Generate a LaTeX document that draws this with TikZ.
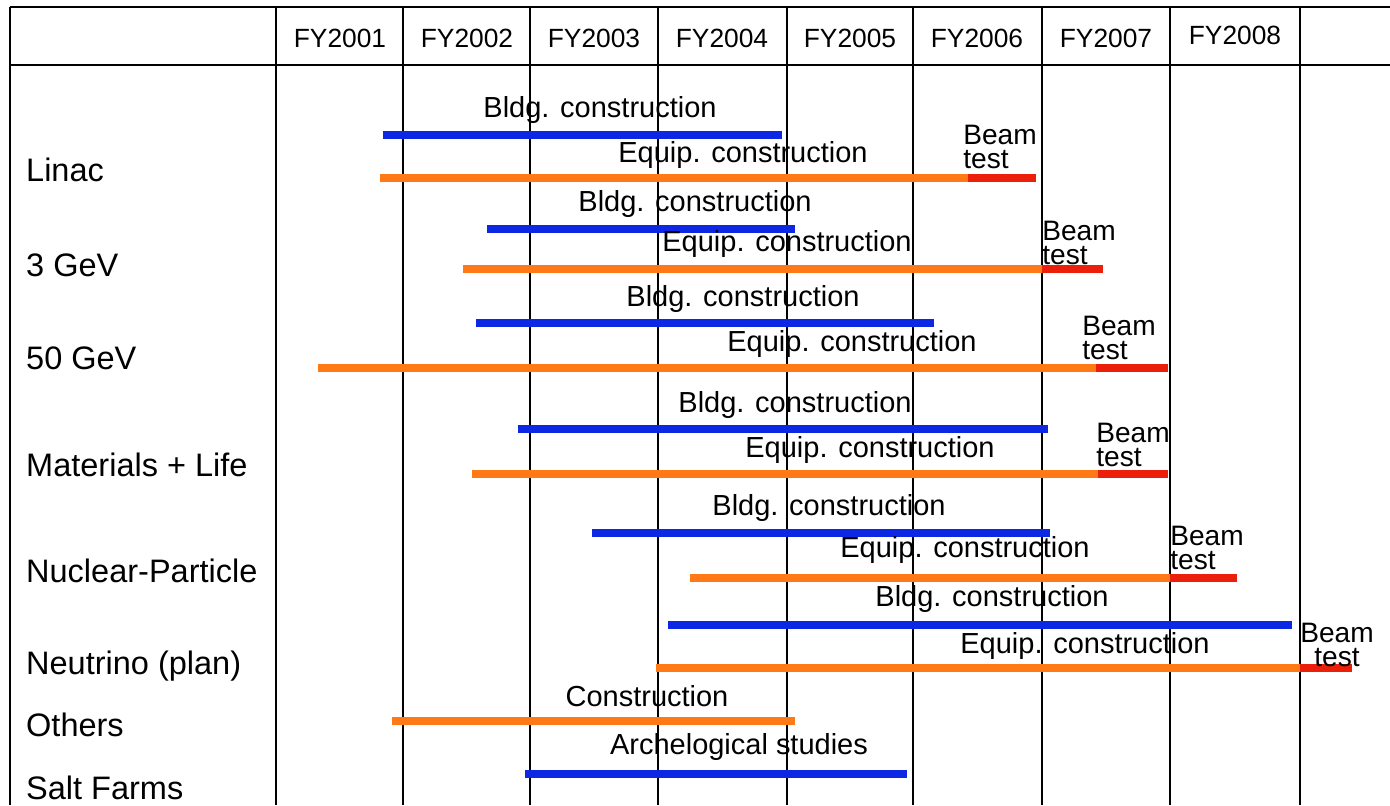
\documentclass[tikz,border=0pt]{standalone}
\usepackage{fontspec}
\setmainfont{Liberation Sans}
\usetikzlibrary{positioning}
\definecolor{bldgblue}{RGB}{12,40,228}
\definecolor{equiporange}{RGB}{255,122,22}
\definecolor{beamred}{RGB}{235,32,10}
\tikzstyle{grid} = [black,line width=1.1pt]

\begin{document}
\begin{tikzpicture}[x=0.02cm,y=-0.02cm,
			bldg/.style={bldgblue,line width=4pt},
			equip/.style={equiporange,line width=4pt},
			beam/.style={beamred,line width=4pt},
			year/.style={font=\fontsize{15}{15}\selectfont},
			row/.style={anchor=west,font=\fontsize{18.5}{18.5}\selectfont},
			task/.style={font=\fontsize{16.5}{16.5}\selectfont,inner sep=0pt},
			beamtest/.style={anchor=north west,align=left,inner sep=0pt,font=\fontsize{16}{13.5}\selectfont}]
			
			\useasboundingbox (0,0) rectangle (1390,805);
			
			% table
			\draw[grid] (10,7) -- (1390,7);
			\draw[grid] (10,65) -- (1390,65);
			\foreach \x in {10,276,403,530,658,787,913,1042,1170,1300}
				\draw[grid] (\x,7) -- (\x,805);
			
			\foreach \y/\xc in {2001/340,2002/467,2003/594,2004/722,2005/850,2006/977,2007/1106}
				\node[year] (fy\y) at (\xc,38) {FY\y};
			\node[year] (fy2008) at (1235,35) {FY2008};
			
			\node[row] (linac) at (20,170) {Linac};
			\node[row] (gev3) at (20,265) {3 GeV};
			\node[row] (gev50) at (20,358) {50 GeV};
			\node[row] (mlf) at (20,465) {Materials + Life};
			\node[row] (np) at (20,571) {Nuclear-Particle};
			\node[row] (nu) at (20,666) {Neutrino (plan)};
			\node[row] (others) at (20,725) {Others};
			\node[row] (salt) at (20,788) {Salt Farms};
			
			% Linac
			\node[task] (lbl1) at (600,110) {Bldg. construction};
			\draw[bldg] (383,135) -- (782,135);
			\node[task] (leq1) at (743,155) {Equip. construction};
			\draw[equip] (380,178) -- (968,178);
			\draw[beam] (968,178) -- (1036,178);
			\node[beamtest] (lbt1) at (963,125) {Beam\\test};
			
			% 3 GeV
			\node[task] (lbl2) at (695,204) {Bldg. construction};
			\draw[bldg] (487,229) -- (795,229);
			\node[task] (leq2) at (787,244) {Equip. construction};
			\draw[equip] (463,269) -- (1042,269);
			\draw[beam] (1042,269) -- (1103,269);
			\node[beamtest] (lbt2) at (1042,221) {Beam\\test};
			
			% 50 GeV
			\node[task] (lbl3) at (743,299) {Bldg. construction};
			\draw[bldg] (476,323) -- (934,323);
			\node[task] (leq3) at (852,344) {Equip. construction};
			\draw[equip] (318,368) -- (1096,368);
			\draw[beam] (1096,368) -- (1168,368);
			\node[beamtest] (lbt3) at (1082,316) {Beam\\test};
			
			% Materials + Life
			\node[task] (lbl4) at (795,405) {Bldg. construction};
			\draw[bldg] (518,429) -- (1048,429);
			\node[task] (leq4) at (870,450) {Equip. construction};
			\draw[equip] (472,474) -- (1098,474);
			\draw[beam] (1098,474) -- (1168,474);
			\node[beamtest] (lbt4) at (1096,423) {Beam\\test};
			
			% Nuclear-Particle
			\node[task] (lbl5) at (829,508) {Bldg. construction};
			\draw[bldg] (592,533) -- (1050,533);
			\node[task] (leq5) at (965,550) {Equip. construction};
			\draw[equip] (690,578) -- (1170,578);
			\draw[beam] (1170,578) -- (1237,578);
			\node[beamtest] (lbt5) at (1170,526) {Beam\\test};
			
			% Neutrino
			\node[task] (lbl6) at (992,599) {Bldg. construction};
			\draw[bldg] (668,625) -- (1292,625);
			\node[task] (leq6) at (1085,646) {Equip. construction};
			\draw[equip] (656,668) -- (1300,668);
			\draw[beam] (1300,668) -- (1352,668);
			\node[beamtest,align=center] (lbt6) at (1300,623) {Beam\\test};
			
			% Others, Salt Farms
			\node[task] (lcon) at (647,696) {Construction};
			\draw[equip] (392,721) -- (795,721);
			\node[task] (larch) at (739,747) {Archelogical studies};
			\draw[bldg] (525,774) -- (907,774);
			
\end{tikzpicture}
\end{document}
